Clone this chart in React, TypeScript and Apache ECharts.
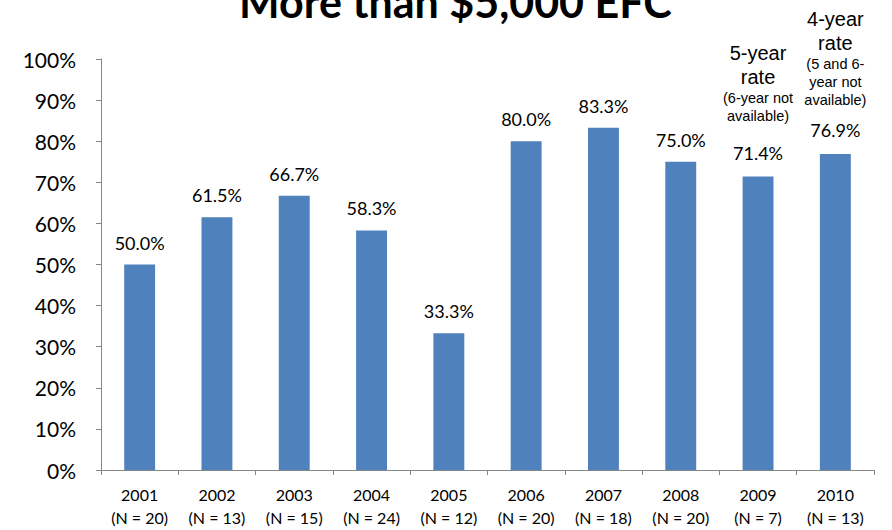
import React, { useEffect, useRef } from "react";
import * as echarts from "echarts";

const title = "More than $5,000 EFC";
const years = ["2001", "2002", "2003", "2004", "2005", "2006", "2007", "2008", "2009", "2010"];
const counts = [20, 13, 15, 24, 12, 20, 18, 20, 7, 13];
const rates = [50.0, 61.5, 66.7, 58.3, 33.3, 80.0, 83.3, 75.0, 71.4, 76.9];
const noteMain = ["", "", "", "", "", "", "", "", "5-year\nrate", "4-year\nrate"];
const noteSub = ["", "", "", "", "", "", "", "", "(6-year not\navailable)", "(5 and 6-\nyear not\navailable)"];
const yTicks = [0, 10, 20, 30, 40, 50, 60, 70, 80, 90, 100];

const CAL = "Lato, 'Open Sans', sans-serif";
const ARIAL = "'Liberation Sans', Arial, sans-serif";

export default function App() {
  const ref = useRef<HTMLDivElement>(null);
  useEffect(() => {
    if (!ref.current) return;
    const chart = echarts.init(ref.current, null, { renderer: "svg" });
    const data = rates.map((v, i) => {
      if (!noteMain[i]) return v;
      const spacer = i === 8 ? 17 : 10;
      const main = noteMain[i].split("\n").map((s) => `{big|${s}}`).join("\n");
      const sub = noteSub[i].split("\n").map((s) => `{small|${s}}`).join("\n");
      return {
        value: v,
        label: {
          formatter: `${main}\n${sub}\n{sp| }\n{val|${v.toFixed(1)}%}`,
          rich: {
            big: { fontFamily: ARIAL, fontSize: 20, lineHeight: 24, color: "#000" },
            small: { fontFamily: ARIAL, fontSize: 14.5, lineHeight: 18, color: "#000" },
            sp: { fontSize: 4, lineHeight: spacer },
            val: { fontFamily: CAL, fontSize: 18, lineHeight: 22, color: "#000" },
          },
        },
      };
    });
    chart.setOption({
      animation: false,
      title: {
        text: title,
        left: 234,
        top: -25,
        textStyle: { fontFamily: CAL, fontSize: 43, fontWeight: "bold", color: "#000" },
      },
      grid: { left: 101, right: 18, top: 59, bottom: 60, containLabel: false },
      xAxis: {
        type: "category",
        data: years,
        axisLine: { lineStyle: { color: "#868686", width: 1 } },
        axisTick: { show: true, length: 5, lineStyle: { color: "#868686" } },
        axisLabel: {
          margin: 13,
          fontFamily: CAL,
          fontSize: 16,
          lineHeight: 23,
          color: "#000",
          formatter: (val: string, idx: number) => `${val}\n(N = ${counts[idx]})`,
        },
      },
      yAxis: {
        type: "value",
        min: yTicks[0],
        max: yTicks[yTicks.length - 1],
        interval: 10,
        splitLine: { show: false },
        axisLine: { show: true, lineStyle: { color: "#868686", width: 1 } },
        axisTick: { show: true, length: 5, lineStyle: { color: "#868686" } },
        axisLabel: {
          margin: 25,
          fontFamily: CAL,
          fontSize: 21,
          color: "#000",
          formatter: "{value}%",
        },
      },
      series: [
        {
          type: "bar",
          data,
          barWidth: "40%",
          itemStyle: { color: "#4F81BD" },
          label: {
            show: true,
            position: "top",
            distance: 13,
            fontFamily: CAL,
            fontSize: 18,
            color: "#000",
            formatter: (p: any) => `${Number(p.value).toFixed(1)}%`,
          },
        },
      ],
    });
    return () => chart.dispose();
  }, []);
  return <div ref={ref} style={{ width: 892, height: 530, position: "absolute", left: 0, top: 0 }} />;
}
